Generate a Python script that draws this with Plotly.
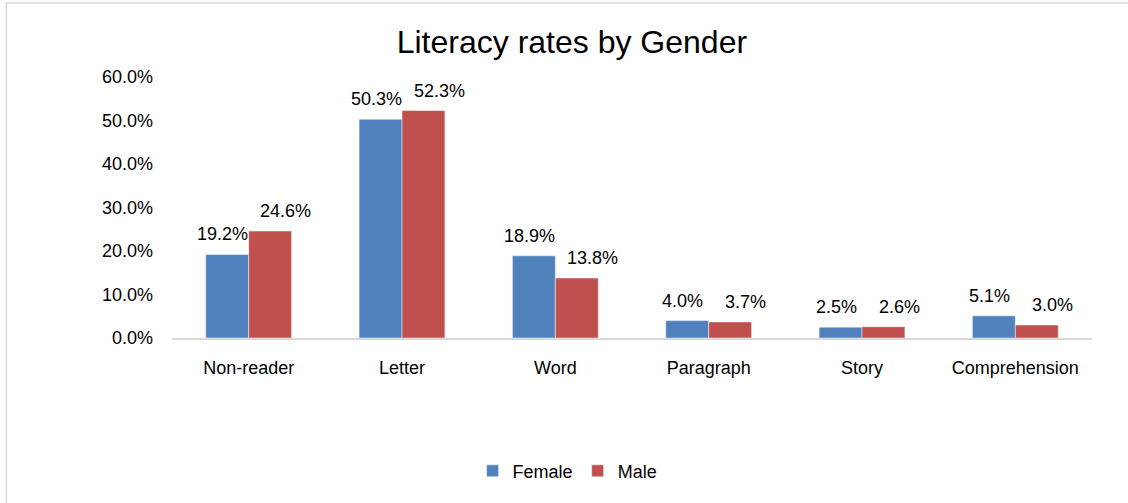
import plotly.graph_objects as go

categories = ["Non-reader", "Letter", "Word", "Paragraph", "Story", "Comprehension"]
female = [0.192, 0.503, 0.189, 0.040, 0.025, 0.051]
male = [0.246, 0.523, 0.138, 0.037, 0.026, 0.030]

FONT = "Liberation Sans, Arial, sans-serif"
BLUE = "#4F81BD"
RED = "#C0504D"

fig = go.Figure()
fig.add_trace(go.Bar(x=categories, y=female, name="Female", marker=dict(color=BLUE)))
fig.add_trace(go.Bar(x=categories, y=male, name="Male", marker=dict(color=RED)))

# data labels sit a little outside each bar pair, as in the Excel original
for vals, dx in ((female, -26), (male, 37)):
    for cat, v in zip(categories, vals):
        fig.add_annotation(x=cat, y=v, text=f"{v:.1%}", showarrow=False,
                           xanchor="center", yanchor="bottom", xshift=dx, yshift=8,
                           font=dict(size=18, color="#000000"))

fig.update_layout(
    width=1128, height=503,
    template="plotly_white",
    font=dict(family=FONT, size=18, color="#000000"),
    barmode="group", bargap=0.44, bargroupgap=0,
    margin=dict(l=172, r=36, t=77, b=165),
    paper_bgcolor="white", plot_bgcolor="white",
    title=dict(text="Literacy rates by Gender", font=dict(size=32, color="#000000"),
               x=0.507, xref="container", xanchor="center",
               y=0.917, yref="container", yanchor="middle"),
    legend=dict(orientation="h", x=0.43, xanchor="center", y=-0.51, yanchor="middle",
                font=dict(size=18), traceorder="normal", itemwidth=30),
)
fig.update_yaxes(range=[0, 0.6], dtick=0.1, tickformat=".1%", showgrid=False,
                 zeroline=False, showline=False, ticklabelstandoff=18,
                 tickfont=dict(size=18))
fig.update_xaxes(showgrid=False, showline=True, linecolor="#D9D9D9", linewidth=2,
                 ticks="", ticklabelstandoff=12, tickfont=dict(size=18))

# chart border (only top and left edges fall inside the picture)
fig.add_shape(type="rect", xref="paper", yref="paper",
              x0=-0.180, x1=1.1, y0=-0.8, y1=1.284,
              line=dict(color="#D9D9D9", width=1.5), fillcolor="rgba(0,0,0,0)")

fig.write_html("out.html", config={"displayModeBar": False},
               post_script="document.body.style.margin='0';")
